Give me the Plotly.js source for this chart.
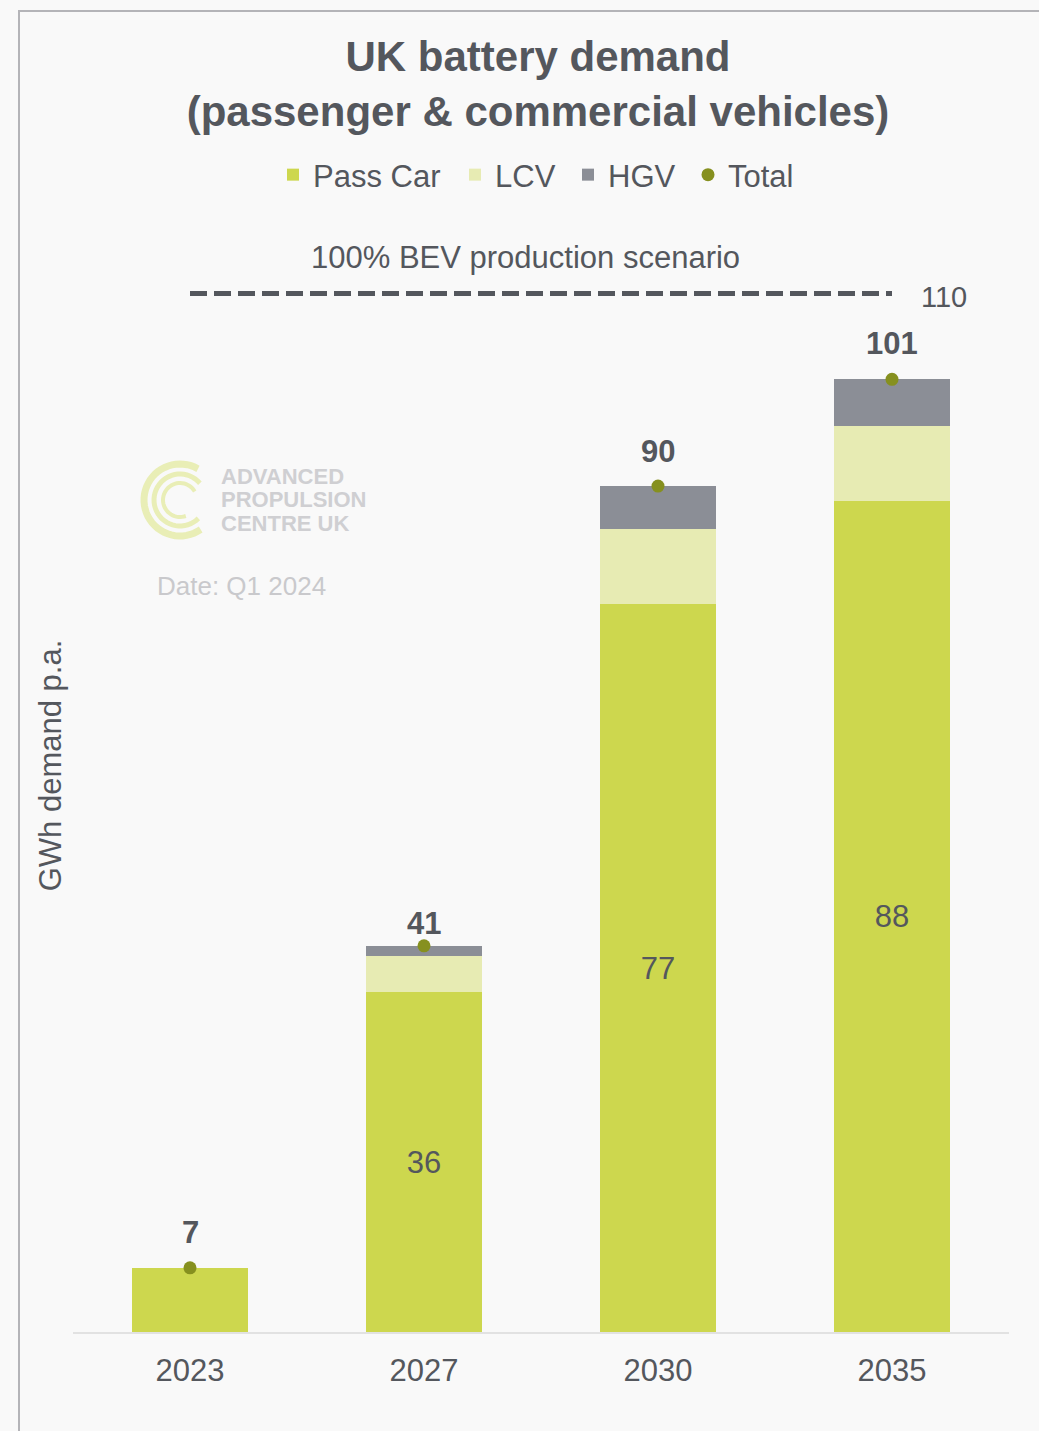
<!DOCTYPE html>
<html><head><meta charset="utf-8">
<script src="https://cdn.plot.ly/plotly-3.0.1.min.js"></script>
<style>html,body{margin:0;padding:0;background:#f9f9f9}</style>
</head><body><div id="chart" style="width:1039px;height:1431px"></div>
<script>
// ---- data ----
const years = ['2023', '2027', '2030', '2035'];
const passCar = [6.8, 36.0, 77.1, 88.0];
const lcv = [0, 3.8, 7.9, 8.0];
const hgv = [0, 1.1, 4.6, 4.9];
const scenarioValue = 110;
const scenarioLabel = '100% BEV production scenario';
const seriesNames = ['Pass Car', 'LCV', 'HGV', 'Total'];
const total = years.map((_, i) => passCar[i] + lcv[i] + hgv[i]);

// ---- style ----
const W = 1039, H = 1431;
const M = {l: 73, r: 30, t: 199, b: 99};
const PW = W - M.l - M.r, PH = H - M.t - M.b;
const px2x = p => (p - M.l) / PW;
const py2y = p => (H - M.b - p) / PH;
const FONT = 'Liberation Sans, Arial, sans-serif';
const TXT = '#54575d';
const C_PASS = '#cdd74e', C_LCV = '#e7ebb3', C_HGV = '#8b8e96', C_TOT = '#86901f';
const totalLabelShift = [35, 22, 35, 36];
const legendTextStart = [313, 495, 608, 728];

const traces = [
  {type: 'bar', name: seriesNames[0], legend: 'legend', x: years.slice(), y: passCar.slice(), marker: {color: C_PASS},
   text: passCar.map(v => v >= 10 ? String(Math.round(v)) : ''),
   textposition: 'inside', insidetextanchor: 'middle',
   textfont: {family: FONT, size: 31, color: TXT}},
  {type: 'bar', name: seriesNames[1], legend: 'legend2', x: years.slice(), y: lcv.slice(), marker: {color: C_LCV}},
  {type: 'bar', name: seriesNames[2], legend: 'legend3', x: years.slice(), y: hgv.slice(), marker: {color: C_HGV}},
  {type: 'scatter', name: seriesNames[3], legend: 'legend4', x: years.slice(), y: total.slice(), mode: 'markers',
   marker: {color: C_TOT, size: 13}},
  {type: 'scatter', x: years.slice(), y: years.map(() => scenarioValue), mode: 'lines',
   line: {color: TXT, width: 5, dash: '17px,7px'}, showlegend: false, hoverinfo: 'skip'}
];

function arcPath(cx, cy, r, a0, a1) {
  let s = '';
  const n = 40;
  for (let k = 0; k <= n; k++) {
    const a = (a0 + (a1 - a0) * k / n) * Math.PI / 180;
    const x = px2x(cx + r * Math.cos(a)), y = py2y(cy + r * Math.sin(a));
    s += (k === 0 ? 'M' : 'L') + x.toFixed(5) + ',' + y.toFixed(5);
  }
  return s;
}
const LOGO = '#e9eeb6';
const shapes = [
  {type: 'rect', xref: 'paper', yref: 'paper', x0: px2x(19), x1: px2x(1070), y0: py2y(11), y1: py2y(1460),
   line: {color: '#b4b4b8', width: 2}, fillcolor: 'rgba(0,0,0,0)', layer: 'below'},
  {type: 'path', xref: 'paper', yref: 'paper', path: arcPath(180, 500, 36, 55, 300), line: {color: LOGO, width: 7}, layer: 'below'},
  {type: 'path', xref: 'paper', yref: 'paper', path: arcPath(180, 500, 26, 45, 320), line: {color: LOGO, width: 5}, layer: 'below'},
  {type: 'path', xref: 'paper', yref: 'paper', path: arcPath(180, 500, 17, 70, 330), line: {color: LOGO, width: 4}, layer: 'below'}
];

const annotations = [
  {xref: 'paper', yref: 'y', x: px2x(525), y: scenarioValue + 3.8, text: scenarioLabel, showarrow: false,
   font: {family: FONT, size: 31, color: TXT}, xanchor: 'center', yanchor: 'middle'},
  {xref: 'paper', yref: 'y', x: px2x(919), y: scenarioValue, text: String(scenarioValue), showarrow: false,
   font: {family: FONT, size: 29, color: TXT}, xanchor: 'left', yanchor: 'middle', yshift: -4},
  {xref: 'paper', yref: 'paper', x: px2x(219), y: py2y(477), text: 'ADVANCED', showarrow: false,
   xanchor: 'left', yanchor: 'middle', font: {family: FONT, size: 22, color: '#cfcfd2', weight: 'bold'}},
  {xref: 'paper', yref: 'paper', x: px2x(219), y: py2y(500), text: 'PROPULSION', showarrow: false,
   xanchor: 'left', yanchor: 'middle', font: {family: FONT, size: 22, color: '#cfcfd2', weight: 'bold'}},
  {xref: 'paper', yref: 'paper', x: px2x(219), y: py2y(523), text: 'CENTRE UK', showarrow: false,
   xanchor: 'left', yanchor: 'middle', font: {family: FONT, size: 22, color: '#cfcfd2', weight: 'bold'}},
  {xref: 'paper', yref: 'paper', x: px2x(241), y: py2y(586), text: 'Date: Q1 2024', showarrow: false,
   xanchor: 'center', yanchor: 'middle', font: {family: FONT, size: 26, color: '#c9c9cc'}}
].concat(years.map((yr, i) => ({
  xref: 'x', yref: 'y', x: i, y: total[i], text: String(Math.round(total[i])), showarrow: false,
  xanchor: 'center', yanchor: 'middle', yshift: totalLabelShift[i],
  font: {family: FONT, size: 31, color: TXT, weight: 'bold'}
})));

function legendAt(px) {
  return {orientation: 'h', x: px2x(px - 40), xanchor: 'left', y: py2y(175), yanchor: 'middle',
    bgcolor: 'rgba(0,0,0,0)', borderwidth: 0, font: {family: FONT, size: 31, color: TXT}};
}

const layout = {
  width: W, height: H,
  margin: M,
  paper_bgcolor: '#f9f9f9', plot_bgcolor: '#f9f9f9',
  barmode: 'stack', bargap: 0.504,
  autotypenumbers: 'strict',
  font: {family: FONT, color: TXT},
  title: {text: 'UK battery demand<br>(passenger & commercial vehicles)',
    font: {family: FONT, size: 42, color: TXT, weight: 'bold'},
    xref: 'container', x: 538 / W, yref: 'container', y: 1 - 71 / H, xanchor: 'center', yanchor: 'middle'},
  legend: legendAt(legendTextStart[0]),
  legend2: legendAt(legendTextStart[1]),
  legend3: legendAt(legendTextStart[2]),
  legend4: legendAt(legendTextStart[3]),
  xaxis: {showline: true, linecolor: '#e2e2e2', linewidth: 2, ticks: '', showgrid: false,
    zeroline: false, ticklabelstandoff: 10, tickfont: {family: FONT, size: 31, color: TXT}},
  yaxis: {range: [0, 120], showticklabels: false, showgrid: false, zeroline: false, showline: false, ticks: '',
    title: {text: 'GWh demand p.a.', font: {family: FONT, size: 31, color: TXT}, standoff: 1}},
  shapes: shapes,
  annotations: annotations,
  showlegend: true
};

Plotly.newPlot('chart', traces, layout, {displayModeBar: false, staticPlot: true});
</script></body></html>
